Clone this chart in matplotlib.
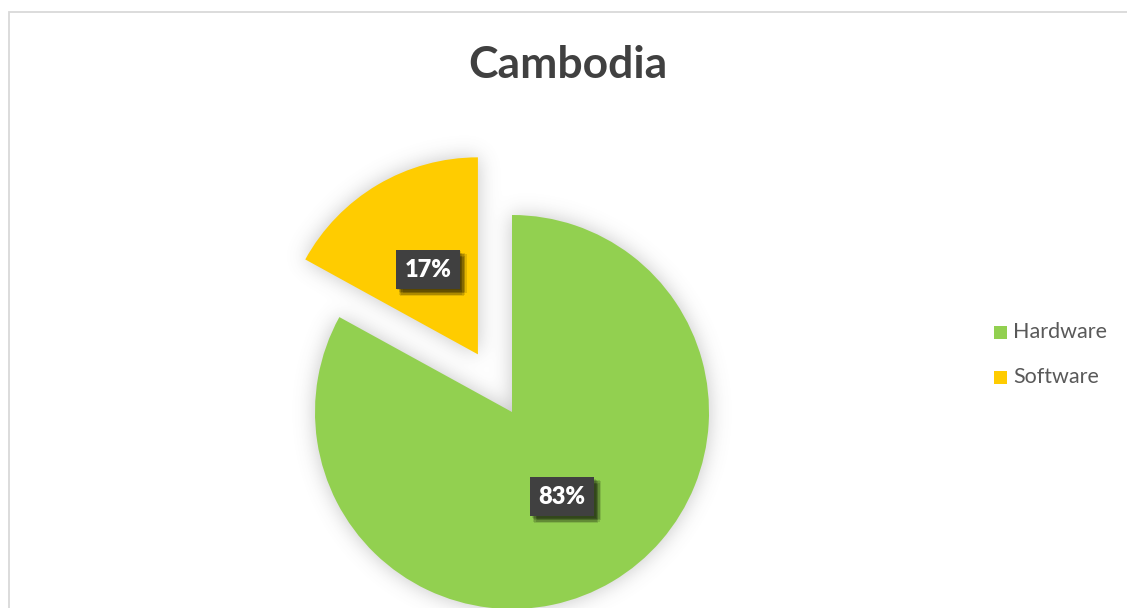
import numpy as np
import matplotlib
matplotlib.use("Agg")
import matplotlib.pyplot as plt
from matplotlib.patches import Rectangle
from matplotlib import patheffects as pe

# ---- data ----
title = "Cambodia"
categories = ["Hardware", "Software"]
shares = [83, 17]
colors = ["#92D050", "#FFCC00"]
explode = [0.0, 0.34]

W, H = 1127, 608
plt.rcParams['font.family'] = ['Lato', 'DejaVu Sans']

fig = plt.figure(figsize=(W / 100, H / 100), dpi=100)
ax = fig.add_axes([0, 0, 1, 1])
ax.axis('off')

# pie centre and radius in pixels (y measured from bottom)
cx, cy, r = 512, 196, 197

wedges, _, autotexts = ax.pie(
    shares, colors=colors, explode=explode, startangle=90, counterclock=False,
    radius=1, wedgeprops=dict(linewidth=0), pctdistance=0.5,
    autopct=lambda p: f"{round(p)}%",
    textprops=dict(color="white", fontsize=17, fontweight="heavy"))
for w in wedges:
    w.set_zorder(3)

ax.set_xlim(-cx / r, (W - cx) / r)
ax.set_ylim(-cy / r, (H - cy) / r)
ax.set_aspect('auto')
fig.canvas.draw()

# soft drop shadow under the pie
yy, xx = np.mgrid[0:H, 0:W]
pts = np.column_stack([xx.ravel() + 0.5, yy.ravel() + 0.5])
mask = np.zeros(H * W, dtype=float)
for w in wedges:
    p = w.get_transform().transform_path(w.get_path())
    mask = np.maximum(mask, p.contains_points(pts).astype(float))
mask = mask.reshape(H, W)

sigma = 10.0
k = np.arange(-34, 35)
kern = np.exp(-k ** 2 / (2 * sigma ** 2))
kern /= kern.sum()
blur = np.apply_along_axis(lambda v: np.convolve(v, kern, mode='same'), 1, mask)
blur = np.apply_along_axis(lambda v: np.convolve(v, kern, mode='same'), 0, blur)
shadow = np.zeros((H, W, 4))
shadow[..., :3] = 0.40
shadow[..., 3] = 0.38 * blur
ax.imshow(shadow, extent=(*ax.get_xlim(), *ax.get_ylim()), origin='lower',
          zorder=1, interpolation='bilinear', aspect='auto')

# percentage labels in dark boxes with a soft shadow
soft = [pe.SimplePatchShadow(offset=(dx, -dy), shadow_rgbFace="black", alpha=0.12)
        for dx, dy in [(1, 1), (2, 2), (3, 3), (4, 4), (2, 4), (4, 2), (3, 5), (5, 3)]]
for t in autotexts:
    t.set_zorder(5)
    t.set_bbox(dict(boxstyle="square,pad=0.36", facecolor="#404040",
                    edgecolor="none"))
    t.get_bbox_patch().set_path_effects(soft + [pe.Normal()])

# chart frame
fig.patches.append(Rectangle((8.5 / W, -0.1), 1.2, 1.1 - 12.5 / H,
                             transform=fig.transFigure, fill=False,
                             edgecolor="#D9D9D9", linewidth=1.3, zorder=0))

# title
fig.text(568 / W, 1 - 65 / H, title, ha="center", va="center", fontsize=32,
         fontweight="bold", color="#404040")

# legend
leg_y = [332, 377]
for name, c, y in zip(categories, colors, leg_y):
    fig.patches.append(Rectangle((994 / W, 1 - (y + 7) / H), 13 / W, 13 / H,
                                 transform=fig.transFigure, facecolor=c,
                                 edgecolor="none"))
    fig.text(1013 / W, 1 - y / H, name, ha="left", va="center", fontsize=15.5,
             color="#595959")

fig.savefig("out.png", dpi=100)
